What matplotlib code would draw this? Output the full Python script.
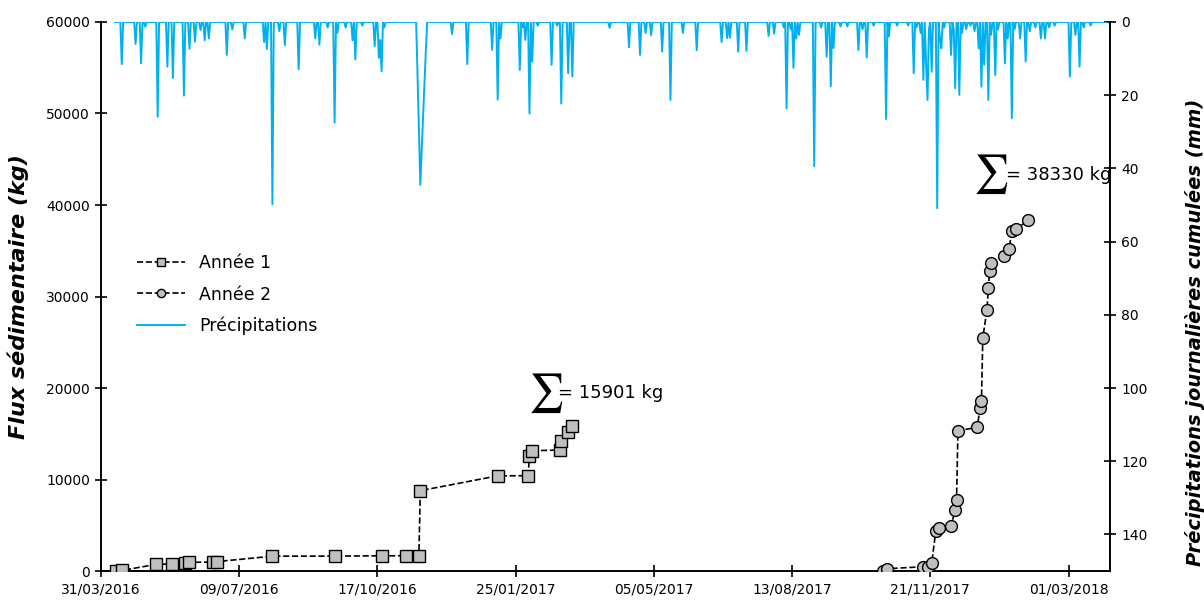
# Flux sédimentaire cumulé et précipitations journalières
import numpy as np
import pandas as pd
import matplotlib
matplotlib.use('Agg')
import matplotlib.pyplot as plt
import matplotlib.dates as mdates

# Données
annee1_dates = ['2016-04-11', '2016-04-15', '2016-05-10', '2016-05-21', '2016-05-31',
                '2016-06-03', '2016-06-20', '2016-06-23', '2016-08-02', '2016-09-16',
                '2016-10-20', '2016-11-07', '2016-11-16', '2016-11-17', '2017-01-12',
                '2017-02-03', '2017-02-04', '2017-02-06', '2017-02-26', '2017-02-27',
                '2017-03-04', '2017-03-07']
annee1_flux = [20, 60, 730, 760, 920, 950, 980, 1030, 1620, 1630,
               1660, 1670, 1680, 8780, 10400, 10420, 12570, 13150, 13220, 14210,
               15220, 15901]

annee2_dates = ['2017-10-18', '2017-10-21', '2017-11-16', '2017-11-19', '2017-11-22',
                '2017-11-25', '2017-11-27', '2017-12-06', '2017-12-09', '2017-12-10',
                '2017-12-11', '2017-12-25', '2017-12-27', '2017-12-28', '2017-12-29',
                '2018-01-01', '2018-01-02', '2018-01-03', '2018-01-04', '2018-01-13',
                '2018-01-17', '2018-01-19', '2018-01-22', '2018-01-31']
annee2_flux = [30, 250, 470, 470, 840,
               4400, 4730, 4920, 6670, 7760,
               15330, 15700, 17850, 18580, 25500,
               28520, 30960, 32790, 33630, 34460,
               35160, 37160, 37380, 38330]

# précipitations : jours depuis le 31/03/2016 et cumul journalier (mm)
rain_day = [15, 25, 29, 32, 41, 48, 52, 60, 64, 68, 72, 75, 78, 91, 95, 104, 118, 120,
            124, 129, 133, 143, 155, 158, 164, 169, 171, 177, 182, 184, 189, 198, 201,
            202, 203, 205, 229, 230, 231, 232, 233, 234, 235, 254, 265, 283, 287, 289,
            303, 305, 307, 310, 312, 316, 326, 330, 333, 338, 341, 368, 382, 390, 394,
            398, 406, 412, 421, 431, 449, 453, 455, 461, 467, 483, 487, 494, 496, 499,
            501, 503, 505, 516, 521, 525, 528, 530, 535, 540, 548, 551, 554, 559, 568,
            570, 576, 584, 588, 590, 593, 595, 597, 598, 599, 601, 605, 607, 608, 610,
            615, 617, 618, 621, 623, 626, 629, 632, 635, 637, 639, 642, 644, 647, 649,
            654, 656, 659, 661, 665, 669, 672, 676, 680, 683, 686, 690, 701, 705, 708,
            711, 716]
rain_mm = [11.5, 6, 11.3, 1.3, 25.9, 12.2, 15.3, 20.1, 7.3, 5.4, 2.2, 5.0, 4.5, 9.0, 2.0,
           4.5, 5.5, 7.4, 49.8, 2.5, 6.3, 12.9, 4.5, 6.2, 1.5, 27.5, 3, 1.5, 5.0, 10.2, 1.0,
           6.6, 9.8, 4.9, 13.5, 1.5, 14, 29, 44.5, 35, 26, 17, 8, 3.3, 11.5, 7.6, 21.2, 4.5,
           13.1, 1.5, 4.9, 25, 10.8, 1.0, 11.7, 1.0, 22.3, 14, 14.9, 1.6, 6.9, 9.0, 3.0,
           3.6, 8.1, 21.3, 3.0, 7.7, 5.5, 4.4, 4.3, 8.1, 7.9, 3.8, 3.2, 1.5, 23.6, 2.0,
           12.5, 4.5, 3.5, 39.4, 1.5, 9.5, 17.6, 7.1, 1.2, 1.2, 7.7, 2.0, 9.7, 1.0, 26.5,
           4.0, 1.0, 1.0, 14, 1.5, 3, 15.8, 11.7, 21.3, 2.0, 13.6, 50.9, 4.5, 7.2, 1.5,
           9.0, 2.0, 18.1, 19.9, 3.0, 2.0, 1.0, 2.5, 7.2, 17.7, 11.7, 21.3, 3.5, 14.5, 2.0,
           11.3, 4.5, 26.3, 2.0, 4.5, 10.8, 2.5, 1.5, 4.5, 4.5, 1.5, 1.0, 14.9, 3.5, 12.2,
           1.5, 1.0]
rain_first, rain_last = 10, 727

start = pd.Timestamp('2016-03-31')
jours = np.arange(rain_first, rain_last + 1)
pluie = np.zeros(len(jours))
pluie[np.array(rain_day) - rain_first] = rain_mm
pluie_dates = start + pd.to_timedelta(jours, unit='D')

d1 = pd.to_datetime(annee1_dates)
d2 = pd.to_datetime(annee2_dates)

# Figure
fig = plt.figure(figsize=(12.04, 6.01), dpi=100)
ax = fig.add_axes([0.0839, 0.0499, 0.838, 0.9135])
ax2 = ax.twinx()

l3, = ax2.plot(pluie_dates, pluie, color='#00b0f0', lw=1.4, label='Précipitations')
ax2.set_ylim(150, 0)
ax2.set_yticks(np.arange(0, 141, 20))

l1, = ax.plot(d1, annee1_flux, ls='--', color='black', lw=1.2, marker='s', ms=8.5,
              mfc='#bfbfbf', mec='black', mew=1.0, label='Année 1', zorder=5)
l2, = ax.plot(d2, annee2_flux, ls='--', color='black', lw=1.2, marker='o', ms=8.5,
              mfc='#bfbfbf', mec='black', mew=1.0, label='Année 2', zorder=5)
ax.set_zorder(ax2.get_zorder() + 1)
ax.patch.set_visible(False)

ax.set_ylim(0, 60000)
ax.set_yticks(np.arange(0, 60001, 10000))
ax.set_xlim(start, start + pd.Timedelta(days=730))
ax.set_xticks(start + pd.to_timedelta(np.arange(0, 701, 100), unit='D'))
ax.xaxis.set_major_formatter(mdates.DateFormatter('%d/%m/%Y'))

for a in (ax, ax2):
    a.spines['top'].set_visible(False)
    for s in a.spines.values():
        s.set_linewidth(1.2)
    a.tick_params(direction='inout', length=9, width=1.2, labelsize=10)

ax.set_ylabel('Flux sédimentaire (kg)', fontsize=16, fontweight='bold', style='italic')
ax.yaxis.set_label_coords(-0.071, 0.5)
ax2.set_ylabel('Précipitations journalières cumulées (mm)', fontsize=14,
               fontweight='bold', style='italic')
ax2.yaxis.set_label_coords(1.074, 0.434)

# Sommes
ax.text(pd.Timestamp('2017-02-03'), 19400, r'$\sum$', fontsize=28, math_fontfamily='stix',
        ha='left', va='center')
ax.text(pd.Timestamp('2017-02-25'), 19400, '= 15901 kg', fontsize=13, ha='left', va='center')
ax.text(pd.Timestamp('2017-12-22'), 43300, r'$\sum$', fontsize=28, math_fontfamily='stix',
        ha='left', va='center')
ax.text(pd.Timestamp('2018-01-15'), 43300, '= 38330 kg', fontsize=13, ha='left', va='center')

ax.legend(handles=[l1, l2, l3], loc='upper left', bbox_to_anchor=(0.02, 0.605),
          frameon=False, fontsize=12.5, handlelength=2.8, labelspacing=0.75,
          markerscale=0.7)

fig.savefig('out.png', dpi=100)
